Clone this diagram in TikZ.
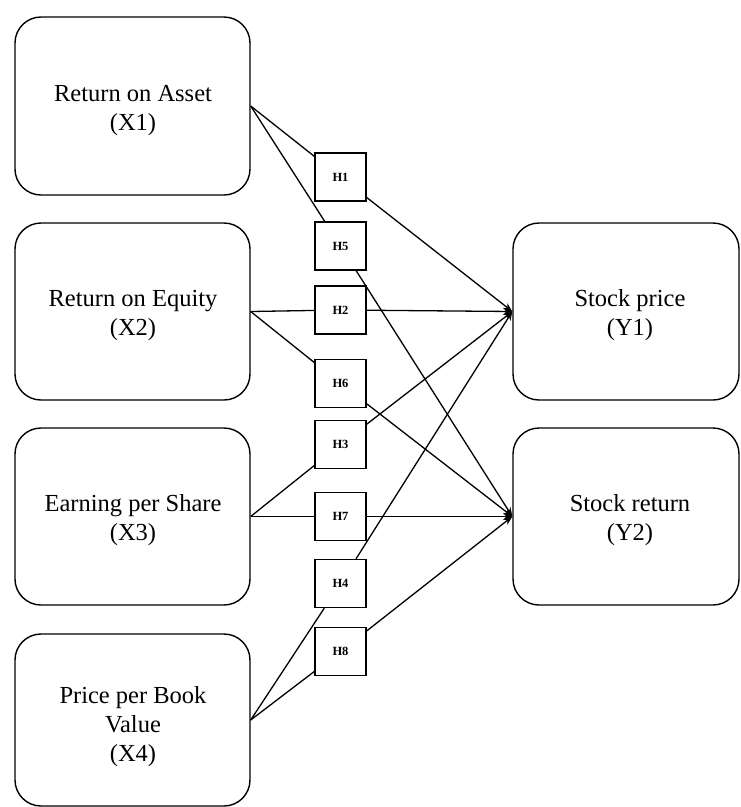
\documentclass[tikz,border=0pt]{standalone}
\usepackage{fontspec}
\setmainfont{Liberation Serif}
\usetikzlibrary{arrows.meta}
\begin{document}
\begin{tikzpicture}[x=1pt,y=-1pt,
  varbox/.style={draw, line width=1.4pt, rounded corners=26pt, inner sep=0pt},
  vartext/.style={align=center, font=\fontsize{24.5}{29}\selectfont, inner sep=0pt},
  hbox/.style={draw, line width=1.4pt, minimum width=51pt, minimum height=48pt,
    inner sep=0pt, font=\fontsize{12.5}{14}\selectfont\bfseries},
  link/.style={line width=1.3pt},
  arr/.style={line width=1.3pt, -{Stealth[length=9pt,width=7pt]}}]
\useasboundingbox (0,0) rectangle (740,807);
% independent variables
\node[varbox, minimum width=235pt, minimum height=178pt] (X1) at (132.5,106) {};
\node[vartext] (tX1) at (133,111) {Return on Asset\\(X1)};
\node[varbox, minimum width=235pt, minimum height=177pt] (X2) at (132.5,311.5) {};
\node[vartext] (tX2) at (133,315) {Return on Equity\\(X2)};
\node[varbox, minimum width=235pt, minimum height=177pt] (X3) at (132.5,516.5) {};
\node[vartext] (tX3) at (133,520) {Earning per Share\\(X3)};
\node[varbox, minimum width=235pt, minimum height=172pt] (X4) at (132.5,720) {};
\node[vartext] (tX4) at (133,727) {Price per Book\\Value\\(X4)};
% dependent variables
\node[varbox, minimum width=226pt, minimum height=177pt] (Y1) at (626,311.5) {};
\node[vartext] (tY1) at (630,315) {Stock price\\(Y1)};
\node[varbox, minimum width=226pt, minimum height=177pt] (Y2) at (626,516.5) {};
\node[vartext] (tY2) at (630,520) {Stock return\\(Y2)};
% hypotheses
\node[hbox] (H1) at (340.5,177) {H1};
\node[hbox] (H5) at (340.5,246) {H5};
\node[hbox] (H2) at (340.5,310) {H2};
\node[hbox] (H6) at (340.5,383.5) {H6};
\node[hbox] (H3) at (340.5,444.5) {H3};
\node[hbox] (H7) at (340.5,516.5) {H7};
\node[hbox] (H4) at (340.5,583.5) {H4};
\node[hbox] (H8) at (340.5,651.5) {H8};
% links from X to H
\draw[link] (X1.east) -- (H1);
\draw[link] (X1.east) -- (H5);
\draw[link] (X2.east) -- (H2);
\draw[link] (X2.east) -- (H6);
\draw[link] (X3.east) -- (H3);
\draw[link] (X3.east) -- (H7);
\draw[link] (X4.east) -- (H4);
\draw[link] (X4.east) -- (H8);
% arrows from H to Y
\draw[arr] (H1) -- (Y1.west);
\draw[arr] (H2) -- (Y1.west);
\draw[arr] (H3) -- (Y1.west);
\draw[arr] (H4) -- (Y1.west);
\draw[arr] (H5) -- (Y2.west);
\draw[arr] (H6) -- (Y2.west);
\draw[arr] (H7) -- (Y2.west);
\draw[arr] (H8) -- (Y2.west);
\end{tikzpicture}
\end{document}
